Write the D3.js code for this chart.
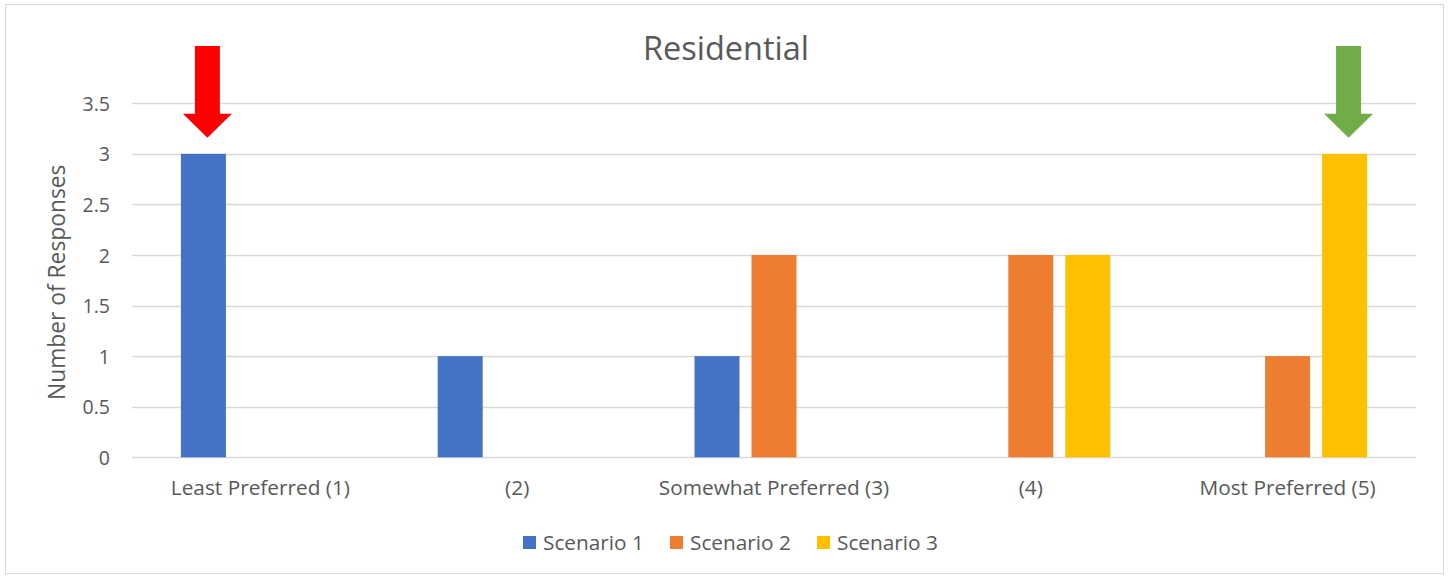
<!DOCTYPE html>
<html>
<head>
<meta charset="utf-8">
<script src="https://cdn.jsdelivr.net/npm/d3@7"></script>
<style>
  html, body { margin: 0; padding: 0; background: #fff; }
  text { font-family: "Open Sans", "Noto Sans", sans-serif; fill: #595959; }
</style>
</head>
<body>
<svg id="chart" width="1449" height="577"></svg>
<script>
// Categories along the x axis
const categories = ["Least Preferred (1)", "(2)", "Somewhat Preferred (3)", "(4)", "Most Preferred (5)"];
// Series names and their values per category
const seriesNames = ["Scenario 1", "Scenario 2", "Scenario 3"];
const scenario1 = [3, 1, 1, 0, 0];
const scenario2 = [0, 0, 2, 2, 1];
const scenario3 = [0, 0, 0, 2, 3];
const seriesColors = ["#4472C4", "#ED7D31", "#FFC000"];
// Y axis ticks
const yTicks = [0, 0.5, 1, 1.5, 2, 2.5, 3, 3.5];
// Callout arrows: [category, series, colour]
const callouts = [
  ["Least Preferred (1)", "Scenario 1", "#FF0000"],
  ["Most Preferred (5)", "Scenario 3", "#70AD47"]
];

const seriesValues = [scenario1, scenario2, scenario3];
const FONT = "'Open Sans', 'Noto Sans', sans-serif";
const svg = d3.select("#chart");

// Outer chart frame
svg.append("rect")
  .attr("x", 5.5).attr("y", 4.5).attr("width", 1438).attr("height", 569)
  .attr("fill", "#fff").attr("stroke", "#d9d9d9").attr("stroke-width", 1);

const plot = { left: 132, right: 1416, top: 103.3, bottom: 457.3 };

const x0 = d3.scaleBand().domain(categories).range([plot.left, plot.right]).padding(0);
const y = d3.scaleLinear().domain([0, 3.5]).range([plot.bottom, plot.top]);
const groupWidth = 159;
const x1 = d3.scaleBand().domain(seriesNames)
  .range([x0.bandwidth() / 2 - groupWidth / 2, x0.bandwidth() / 2 + groupWidth / 2])
  .paddingInner(12 / 57).paddingOuter(0);

// Gridlines
svg.append("g").selectAll("line").data(yTicks).join("line")
  .attr("x1", plot.left).attr("x2", plot.right)
  .attr("y1", d => Math.round(y(d)) + 0.5).attr("y2", d => Math.round(y(d)) + 0.5)
  .attr("stroke", "#d9d9d9").attr("stroke-width", 1.3);

// Y axis tick labels
const yAxis = d3.axisLeft(y).tickValues(yTicks).tickSize(0).tickPadding(0)
  .tickFormat(d => String(d));
const yg = svg.append("g").attr("transform", `translate(110,0)`).call(yAxis);
yg.select(".domain").remove();
yg.selectAll("text").style("font-family", FONT)
  .style("font-size", "19.5px").attr("fill", "#595959").attr("dy", "0.36em");

// Bars
const groups = svg.append("g").selectAll("g").data(categories).join("g")
  .attr("transform", d => `translate(${x0(d)},0)`);
groups.selectAll("rect")
  .data((c, ci) => seriesNames.map((s, si) => ({ s, si, v: seriesValues[si][ci] })).filter(d => d.v > 0))
  .join("rect")
  .attr("x", d => x1(d.s))
  .attr("width", x1.bandwidth())
  .attr("y", d => y(d.v))
  .attr("height", d => y(0) - y(d.v))
  .attr("fill", d => seriesColors[d.si]);

// X axis labels
const xAxis = d3.axisBottom(x0).tickSize(0).tickPadding(0);
const xg = svg.append("g").attr("transform", `translate(0,${plot.bottom})`).call(xAxis);
xg.select(".domain").remove();
xg.selectAll("text").style("font-family", FONT)
  .style("font-size", "20.8px").attr("fill", "#595959").attr("y", 38).attr("dy", 0);

// Title
svg.append("text").attr("x", 726).attr("y", 60).attr("text-anchor", "middle")
  .style("font-size", "32.5px").text("Residential");

// Y axis title
svg.append("text").attr("transform", `translate(65,${(plot.top + plot.bottom) / 2 + 2}) rotate(-90)`)
  .attr("text-anchor", "middle").style("font-size", "22.8px").text("Number of Responses");

// Callout arrows pointing down at highlighted bars
const arrowPath = (cx, tipY) => {
  const top = 46, headY = tipY - 24, shaft = 12.5, head = 24.5;
  return `M${cx - shaft},${top}H${cx + shaft}V${headY}H${cx + head}L${cx},${tipY}L${cx - head},${headY}H${cx - shaft}Z`;
};
svg.append("g").selectAll("path").data(callouts).join("path")
  .attr("d", d => {
    const ci = categories.indexOf(d[0]);
    const si = seriesNames.indexOf(d[1]);
    const v = seriesValues[si][ci];
    const cx = x0(d[0]) + x1(d[1]) + x1.bandwidth() / 2 + 4;
    return arrowPath(cx, y(v) - 16);
  })
  .attr("fill", d => d[2]);

// Legend
const legendX = [523, 670, 817];
const lg = svg.append("g").selectAll("g").data(seriesNames).join("g")
  .attr("transform", (d, i) => `translate(${legendX[i]},536)`);
lg.append("rect").attr("width", 13).attr("height", 13).attr("fill", (d, i) => seriesColors[i]);
lg.append("text").attr("x", 20).attr("y", 14).style("font-size", "20.8px").text(d => d);
</script>
</body>
</html>
